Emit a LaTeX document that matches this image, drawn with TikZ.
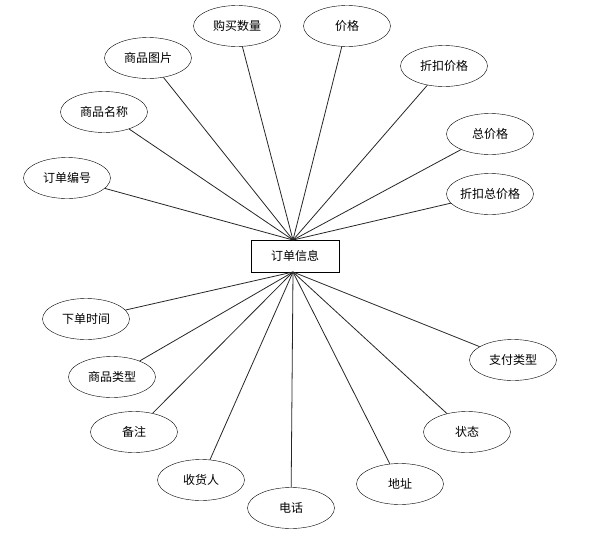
\documentclass[tikz,border=0pt]{standalone}
\usepackage{fontspec}
\setmainfont{Noto Sans CJK SC}
\usetikzlibrary{shapes.geometric}
\begin{document}
\begin{tikzpicture}[x=1pt,y=-1pt,
  attr/.style={draw, ellipse, minimum width=87pt, minimum height=41pt, inner sep=0pt, font=\fontsize{12pt}{14pt}\selectfont},
  ent/.style={draw, rectangle, minimum width=88pt, minimum height=32pt, inner sep=0pt, font=\fontsize{12pt}{14pt}\selectfont},
  link/.style={draw, line width=0.8pt, black!85}]
\useasboundingbox (0,0) rectangle (608,544);
\node[ent] (e) at (295,256) {订单信息};
\coordinate (t) at (293,240);
\coordinate (b) at (293,272);
\node[attr] (a1) at (237,26) {购买数量};
\node[attr] (a2) at (148,58) {商品图片};
\node[attr] (a3) at (104,112) {商品名称};
\node[attr] (a4) at (67,178) {订单编号};
\node[attr] (a5) at (347,26) {价格};
\node[attr] (a6) at (444,66) {折扣价格};
\node[attr] (a7) at (490,134) {总价格};
\node[attr] (a8) at (490,194) {折扣总价格};
\node[attr] (b1) at (86,319) {下单时间};
\node[attr] (b2) at (112,377) {商品类型};
\node[attr] (b3) at (134,432) {备注};
\node[attr] (b4) at (201,480) {收货人};
\node[attr] (b5) at (291,508) {电话};
\node[attr] (b6) at (400,484) {地址};
\node[attr] (b7) at (467,432) {状态};
\node[attr] (b8) at (513,360) {支付类型};
\foreach \n in {a1,a2,a3,a4,a5,a6,a7,a8} \draw[link] (\n) -- (t);
\foreach \n in {b1,b2,b3,b4,b5,b6,b7,b8} \draw[link] (\n) -- (b);
\end{tikzpicture}
\end{document}
